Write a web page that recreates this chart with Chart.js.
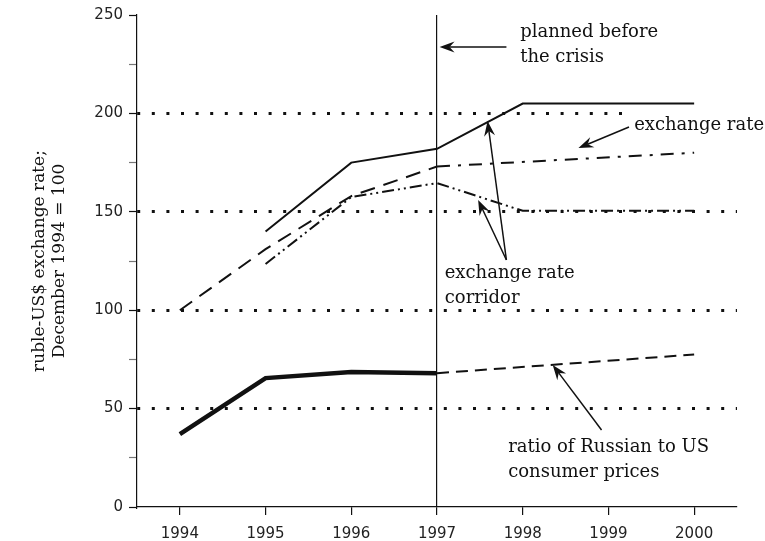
<!DOCTYPE html>
<html lang="en">
<head>
  <meta charset="UTF-8" />
  <title>Ruble-US$ exchange rate corridor</title>
  <script src="https://cdn.jsdelivr.net/npm/chart.js"></script>
  <style>
    html, body { margin: 0; padding: 0; background: #fff; }
    #chart { display: block; }
  </style>
</head>
<body>
<canvas id="chart" width="765" height="541"></canvas>

<script>
  // data (index: December 1994 = 100)
  const years = [1994, 1995, 1996, 1997, 1998, 1999, 2000];
  const corridorUpper = [null, 140, 175, 182, 205, 205, 205];
  const corridorLower = [null, 123.5, 157.5, 164.6, 150.5, 150.5, 150.5];
  const rateActual = [100, 131, 158, 173, null, null, null];
  const ratePlanned = [null, null, null, 173, null, null, 180];
  const cpiActual = [37, 65.5, 68.6, 68, null, null, null];
  const cpiPlanned = [null, null, null, 68, null, null, 77.5];
  const yTicks = [0, 50, 100, 150, 200, 250];
  const gridValues = [50, 100, 150, 200];
  const crisisYear = 1997;

  // notes + arrows, given in data units (year, index value)
  const notes = [
    { lines: ["planned before", "the crisis"], x: 1997.97, y: 241.4 },
    { lines: ["exchange rate"], x: 1999.30, y: 194.1, blank: true },
    { lines: ["exchange rate", "corridor"], x: 1997.09, y: 118.9 },
    { lines: ["ratio of Russian to US", "consumer prices"], x: 1997.83, y: 30.5 }
  ];
  const arrows = [
    { from: [1997.81, 233.7], to: [1997.03, 233.7] },
    { from: [1999.24, 193.1], to: [1998.65, 182.4] },
    { from: [1997.81, 125.5], to: [1997.48, 156.0] },
    { from: [1997.81, 125.5], to: [1997.59, 196.1] },
    { from: [1998.92, 39.1], to: [1998.35, 72.2] }
  ];

  const ink = "#111";
  const serif = "'DejaVu Serif', serif";
  const pts = vals => years.map((yr, i) => ({ x: yr, y: vals[i] }));

  function line(vals, width, dash, spanGaps) {
    return {
      data: pts(vals),
      borderColor: ink,
      borderWidth: width,
      borderDash: dash,
      pointRadius: 0,
      tension: 0,
      fill: false,
      spanGaps: !!spanGaps
    };
  }

  function drawArrow(ctx, x1, y1, x2, y2) {
    const ang = Math.atan2(y2 - y1, x2 - x1);
    const len = 15, half = 5.5, notch = 10;
    ctx.beginPath();
    ctx.moveTo(x1, y1);
    ctx.lineTo(x2 - Math.cos(ang) * notch, y2 - Math.sin(ang) * notch);
    ctx.stroke();
    ctx.save();
    ctx.translate(x2, y2);
    ctx.rotate(ang);
    ctx.beginPath();
    ctx.moveTo(0, 0);
    ctx.lineTo(-len, -half);
    ctx.lineTo(-notch, 0);
    ctx.lineTo(-len, half);
    ctx.closePath();
    ctx.fill();
    ctx.restore();
  }

  const notesPlugin = {
    id: "notes",
    afterDatasetsDraw(chart) {
      const { ctx, scales: { x, y } } = chart;
      ctx.save();
      ctx.font = "18px " + serif;
      ctx.textBaseline = "middle";
      ctx.textAlign = "left";
      notes.forEach(n => {
        const px = x.getPixelForValue(n.x);
        const py = y.getPixelForValue(n.y);
        if (n.blank) {
          ctx.fillStyle = "#fff";
          ctx.fillRect(px - 7, py - 16, chart.width - px + 7, 30);
        }
        ctx.fillStyle = ink;
        n.lines.forEach((t, i) => ctx.fillText(t, px, py + i * 25));
      });
      ctx.strokeStyle = ink;
      ctx.fillStyle = ink;
      ctx.lineWidth = 1.5;
      arrows.forEach(a => {
        drawArrow(ctx,
          x.getPixelForValue(a.from[0]), y.getPixelForValue(a.from[1]),
          x.getPixelForValue(a.to[0]), y.getPixelForValue(a.to[1]));
      });
      ctx.restore();
    }
  };

  new Chart(document.getElementById("chart").getContext("2d"), {
    type: "line",
    data: {
      datasets: [
        line(corridorUpper, 2, []),
        line(corridorLower, 2, [12, 4, 2, 4, 2, 4]),
        line(rateActual, 2, [15, 9]),
        line(ratePlanned, 2, [13, 8, 3, 8], true),
        line(cpiActual, 4.5, []),
        line(cpiPlanned, 2, [12, 7], true)
      ]
    },
    options: {
      responsive: false,
      animation: false,
      layout: { padding: { top: 15, right: 28, left: 0, bottom: 0 } },
      plugins: { legend: { display: false }, tooltip: { enabled: false } },
      scales: {
        x: {
          type: "linear",
          min: 1993.5,
          max: 2000.5,
          afterBuildTicks: s => { s.ticks = years.map(v => ({ value: v })); },
          afterFit: s => { s.height = 34; },
          grid: {
            color: c => (c.tick && c.tick.value === crisisYear) ? ink : "transparent",
            lineWidth: 1.2,
            tickColor: ink,
            tickLength: 8,
            tickWidth: 1.2
          },
          border: { display: true, color: ink, width: 1.2 },
          ticks: {
            font: { family: "'DejaVu Sans'", size: 15 },
            color: "#222",
            padding: 10,
            callback: v => String(v)
          }
        },
        y: {
          min: 0,
          max: 250,
          afterBuildTicks: s => {
            const t = [];
            for (let v = 0; v <= 250; v += 25) t.push({ value: v });
            s.ticks = t;
          },
          afterFit: s => { s.width = 137; },
          grid: {
            color: c => (c.tick && gridValues.includes(c.tick.value)) ? ink : "transparent",
            lineWidth: 3,
            tickColor: c => (c.tick && yTicks.includes(c.tick.value)) ? ink : "#777",
            tickLength: 8,
            tickWidth: 1.2
          },
          border: { display: true, color: ink, width: 1.2, dash: [3, 11.6] },
          ticks: {
            font: { family: "'DejaVu Sans'", size: 15 },
            color: "#222",
            padding: 6,
            callback: v => yTicks.includes(v) ? String(v) : ""
          },
          title: {
            display: true,
            text: ["ruble-US$ exchange rate;", "December 1994 = 100"],
            font: { family: serif, size: 17 },
            color: ink,
            padding: { top: 29, bottom: 0 }
          }
        }
      }
    },
    plugins: [notesPlugin]
  });
</script>
</body>
</html>
